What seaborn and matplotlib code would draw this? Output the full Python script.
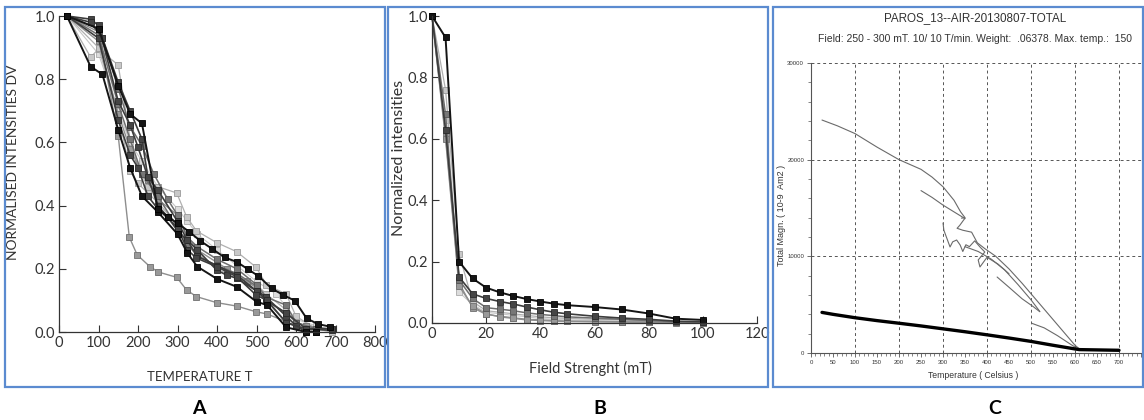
"""Three-panel figure: thermal demagnetisation (A), AF demagnetisation (B), thermomagnetic curve (C)."""
import numpy as np
import pandas as pd
import matplotlib
matplotlib.use('Agg')
import matplotlib.pyplot as plt
from matplotlib.patches import Rectangle
from matplotlib.ticker import MultipleLocator
import seaborn as sns

# ---------------- A: normalised intensities vs temperature ----------------
a_t1 = [20, 80, 110, 150, 180, 210, 250, 300, 325, 350, 400, 450, 500, 527, 575, 625, 650]
a_v1 = [1.0, 0.84, 0.815, 0.64, 0.52, 0.43, 0.38, 0.31, 0.25, 0.207, 0.168, 0.143, 0.096, 0.085, 0.015, 0.0, 0.0]
a_t2 = [20, 100, 150, 180, 210, 250, 275, 300, 330, 358, 388, 419, 450, 479, 505, 538, 568, 597, 627, 656, 686]
a_v2 = [1.0, 0.96, 0.78, 0.69, 0.66, 0.39, 0.365, 0.344, 0.317, 0.288, 0.263, 0.236, 0.222, 0.198, 0.177, 0.138, 0.117, 0.099, 0.043, 0.025, 0.017]
a_t3 = [20, 80, 110, 150, 180, 210, 225, 250, 300, 325, 350, 400, 450, 500, 525, 575, 625, 690]
a_v3 = [1.0, 0.98, 0.93, 0.79, 0.70, 0.61, 0.49, 0.45, 0.35, 0.29, 0.24, 0.21, 0.18, 0.13, 0.10, 0.06, 0.01, 0.005]
a_t4 = [20, 100, 150, 178, 198, 230, 251, 298, 323, 348, 399, 450, 499, 527, 600, 650]
a_v4 = [1.0, 0.95, 0.62, 0.30, 0.244, 0.207, 0.19, 0.173, 0.133, 0.112, 0.093, 0.082, 0.064, 0.057, 0.02, 0.0]
a_t5 = [20, 80, 100, 150, 180, 200, 225, 250, 298, 323, 348, 399, 450, 499, 525, 575, 600, 650, 690]
a_v5 = [1.0, 0.87, 0.895, 0.845, 0.61, 0.52, 0.46, 0.46, 0.44, 0.365, 0.32, 0.283, 0.254, 0.205, 0.15, 0.12, 0.05, 0.01, 0.0]
a_t6 = [20, 100, 150, 180, 200, 225, 250, 300, 325, 348, 399, 450, 499, 527, 575, 625, 690]
a_v6 = [1.0, 0.93, 0.67, 0.56, 0.52, 0.43, 0.39, 0.33, 0.26, 0.234, 0.207, 0.175, 0.117, 0.10, 0.03, 0.01, 0.01]
a_t7 = [20, 100, 150, 180, 210, 225, 250, 300, 325, 350, 400, 425, 450, 475, 500, 525, 575, 600, 625, 690]
a_v7 = [1.0, 0.92, 0.69, 0.58, 0.50, 0.48, 0.42, 0.37, 0.30, 0.26, 0.22, 0.20, 0.18, 0.16, 0.14, 0.10, 0.06, 0.03, 0.02, 0.01]
a_t8 = [20, 100, 150, 180, 200, 225, 250, 300, 325, 350, 400, 450, 500, 525, 575, 600, 625, 690]
a_v8 = [1.0, 0.90, 0.69, 0.51, 0.47, 0.44, 0.41, 0.34, 0.27, 0.25, 0.20, 0.17, 0.15, 0.12, 0.07, 0.03, 0.02, 0.005]
a_t9 = [20, 100, 110, 150, 180, 210, 240, 275, 300, 325, 350, 400, 450, 500, 525, 575, 600, 650]
a_v9 = [1.0, 0.96, 0.93, 0.77, 0.65, 0.59, 0.50, 0.42, 0.37, 0.30, 0.27, 0.23, 0.20, 0.15, 0.11, 0.085, 0.03, 0.01]
a_t10 = [20, 100, 150, 180, 210, 250, 300, 325, 350, 400, 450, 500, 550, 600, 650]
a_v10 = [1.0, 0.88, 0.70, 0.60, 0.54, 0.46, 0.39, 0.35, 0.31, 0.26, 0.21, 0.16, 0.12, 0.04, 0.02]
a_t11 = [20, 80, 100, 150, 180, 200, 225, 250, 275, 300, 325, 350, 400, 425, 450, 500, 525, 575, 600, 625, 650]
a_v11 = [1.0, 0.99, 0.97, 0.73, 0.655, 0.585, 0.49, 0.40, 0.365, 0.32, 0.29, 0.26, 0.195, 0.18, 0.17, 0.13, 0.11, 0.05, 0.02, 0.0, 0.0]
a_t12 = [20, 100, 150, 180, 210, 250, 300, 325, 350, 400, 450, 500, 525, 575, 625]
a_v12 = [1.0, 0.94, 0.72, 0.61, 0.50, 0.43, 0.33, 0.28, 0.24, 0.21, 0.185, 0.145, 0.10, 0.03, 0.005]

# ---------------- B: normalised intensities vs AF field ----------------
b_field = [0, 5, 10, 15, 20, 25, 30, 35, 40, 45, 50, 60, 70, 80, 90, 100]
b_v1 = [1.0, 0.93, 0.20, 0.145, 0.115, 0.10, 0.088, 0.078, 0.07, 0.063, 0.058, 0.052, 0.044, 0.031, 0.014, 0.01]
b_v2 = [1.0, 0.63, 0.15, 0.095, 0.08, 0.07, 0.062, 0.052, 0.043, 0.035, 0.03, 0.022, 0.016, 0.012, 0.006, 0.004]
b_v3 = [1.0, 0.68, 0.14, 0.08, 0.05, 0.045, 0.04, 0.033, 0.028, 0.024, 0.02, 0.016, 0.012, 0.008, 0.004, 0.003]
b_v4 = [1.0, 0.76, 0.225, 0.07, 0.04, 0.035, 0.03, 0.025, 0.02, 0.017, 0.015, 0.012, 0.01, 0.007, 0.004, 0.002]
b_v5 = [1.0, 0.66, 0.10, 0.06, 0.035, 0.03, 0.025, 0.02, 0.015, 0.012, 0.01, 0.008, 0.006, 0.004, 0.002, 0.001]
b_v6 = [1.0, 0.60, 0.12, 0.055, 0.03, 0.02, 0.015, 0.01, 0.008, 0.006, 0.005, 0.004, 0.003, 0.002, 0.001, 0.0]
b_v7 = [1.0, 0.61, 0.13, 0.05, 0.028, 0.022, 0.017, 0.012, 0.01, 0.008, 0.006, 0.005, 0.004, 0.003, 0.002, 0.001]

# ---------------- C: total magnetisation vs temperature ----------------
c_cool_t = [25, 50, 100, 150, 200, 250, 300, 350, 400, 450, 500, 550, 600, 610, 650, 700]
c_cool_m = [4200, 4000, 3650, 3350, 3080, 2800, 2500, 2200, 1880, 1550, 1200, 800, 420, 350, 320, 280]
c_h1_t = [25, 60, 100, 150, 200, 250, 275, 300, 325, 340, 350, 342]
c_h1_m = [24100, 23500, 22700, 21300, 20000, 19000, 18200, 17200, 15800, 14600, 14000, 13950]
c_h2_t = [250, 275, 300, 325, 350]
c_h2_m = [16800, 16100, 15300, 14600, 13900]
c_h3_t = [350, 338, 332, 345, 365, 378, 395, 420, 450, 480, 510, 540, 570, 600, 612]
c_h3_m = [13950, 13200, 12900, 12700, 12500, 11400, 10800, 10000, 8700, 7200, 5600, 4000, 2400, 800, 350]
c_h4_t = [300, 302, 316, 322, 331, 339, 345, 352, 360, 372, 384, 395, 380, 384, 400, 425, 450]
c_h4_m = [13450, 12700, 10970, 11500, 11690, 11170, 10500, 11200, 11000, 11600, 10970, 10450, 9620, 8900, 9900, 9200, 8200]
c_h5_t = [350, 380, 410, 440, 470, 500, 520]
c_h5_m = [11000, 10500, 9700, 8600, 7100, 5500, 4300]
c_h6_t = [423, 450, 480, 505, 520]
c_h6_m = [7860, 6800, 5600, 4800, 4270]
c_h7_t = [502, 530, 560, 590, 611]
c_h7_m = [3070, 2600, 1800, 900, 310]

sns.set_theme(style="white")
plt.rcParams['font.family'] = ['Lato', 'DejaVu Sans']
plt.rcParams['axes.edgecolor'] = '#333333'
plt.rcParams['xtick.color'] = '#333333'
plt.rcParams['ytick.color'] = '#333333'
ARIAL = ['Liberation Sans', 'DejaVu Sans']

W, H = 1144, 420
fig = plt.figure(figsize=(W / 100, H / 100), dpi=100)


def fx(px):
    return px / W


def fy(py):
    return 1 - py / H


def style_ab(ax):
    sns.despine(ax=ax)
    ax.tick_params(direction='in', length=5, width=0.8, labelsize=10.5, pad=3,
                   bottom=True, left=True, labelcolor='#333333')
    for s in ['left', 'bottom']:
        ax.spines[s].set_linewidth(0.9)
    ax.set_xlabel('')
    ax.set_ylabel('')


# grey shades: (line colour, marker face, marker edge, linewidth)
shade_black = ('#151515', '#151515', '#000000', 1.4)
shade_dark = ('#3c3c3c', '#454545', '#2a2a2a', 1.2)
shade_mid = ('#6e6e6e', '#777777', '#555555', 1.1)
shade_grey = ('#8e8e8e', '#999999', '#707070', 1.0)
shade_light = ('#b0b0b0', '#c8c8c8', '#9a9a9a', 0.9)
shade_vlight = ('#c8c8c8', '#dcdcdc', '#aaaaaa', 0.8)

# ---------------- panel A ----------------
axA = fig.add_axes([fx(59), fy(332), fx(316), 316 / H])
a_series = [
    (a_t10, a_v10, shade_vlight), (a_t5, a_v5, shade_light), (a_t8, a_v8, shade_light),
    (a_t7, a_v7, shade_grey), (a_t4, a_v4, shade_grey), (a_t12, a_v12, shade_mid),
    (a_t9, a_v9, shade_mid), (a_t11, a_v11, shade_dark), (a_t3, a_v3, shade_dark),
    (a_t6, a_v6, shade_dark), (a_t1, a_v1, shade_black), (a_t2, a_v2, shade_black),
]
for t, v, (lc, mf, me, lw) in a_series:
    sns.lineplot(x=t, y=v, ax=axA, color=lc, linewidth=lw, marker='s', markersize=4,
                 markerfacecolor=mf, markeredgecolor=me, markeredgewidth=0.6,
                 estimator=None, sort=False, clip_on=False)
axA.set_xlim(0, 800)
axA.set_ylim(0, 1.0)
axA.set_xticks(np.arange(0, 801, 100))
axA.set_yticks(np.arange(0, 1.01, 0.2))
axA.set_yticklabels([f"{v:.1f}" for v in np.arange(0, 1.01, 0.2)])
style_ab(axA)
fig.text(fx(13), fy(162), 'NORMALISED INTENSITIES DV', rotation=90, ha='center', va='center',
         fontsize=10, color='#333333')
fig.text(fx(200), fy(377), 'TEMPERATURE T', ha='center', va='center', fontsize=9.5, color='#333333')

# ---------------- panel B ----------------
axB = fig.add_axes([fx(432), fy(323), fx(325), 307 / H])
b_series = [
    (b_v5, shade_vlight), (b_v4, shade_light), (b_v7, shade_grey), (b_v6, shade_grey),
    (b_v3, shade_mid), (b_v2, shade_dark), (b_v1, shade_black),
]
for v, (lc, mf, me, lw) in b_series:
    sns.lineplot(x=b_field, y=v, ax=axB, color=lc, linewidth=lw, marker='s', markersize=4,
                 markerfacecolor=mf, markeredgecolor=me, markeredgewidth=0.6,
                 estimator=None, sort=False, clip_on=False)
axB.set_xlim(0, 120)
axB.set_ylim(0, 1.0)
axB.set_xticks(np.arange(0, 121, 20))
axB.set_yticks(np.arange(0, 1.01, 0.2))
axB.set_yticklabels([f"{v:.1f}" for v in np.arange(0, 1.01, 0.2)])
style_ab(axB)
fig.text(fx(399), fy(158), 'Normalized intensities', rotation=90, ha='center', va='center',
         fontsize=11.5, color='#333333')
fig.text(fx(590), fy(368), 'Field Strenght (mT)', ha='center', va='center', fontsize=10.5, color='#333333')

# ---------------- panel C ----------------
axC = fig.add_axes([fx(811), fy(353), fx(330), 290 / H])
thin = dict(color='#6a6a6a', linewidth=0.8, estimator=None, sort=False)
for t, m in [(c_h1_t, c_h1_m), (c_h2_t, c_h2_m), (c_h3_t, c_h3_m), (c_h4_t, c_h4_m),
             (c_h5_t, c_h5_m), (c_h6_t, c_h6_m), (c_h7_t, c_h7_m)]:
    sns.lineplot(x=t, y=m, ax=axC, **thin)
sns.lineplot(x=c_cool_t, y=c_cool_m, ax=axC, color='black', linewidth=2.4, estimator=None, sort=False)
axC.set_xlim(0, 750)
axC.set_ylim(0, 30000)
axC.set_xticks(np.arange(0, 751, 50))
axC.set_xticklabels([str(v) if v < 750 else '' for v in np.arange(0, 751, 50)])
axC.xaxis.set_minor_locator(MultipleLocator(10))
axC.yaxis.set_major_locator(MultipleLocator(10000))
axC.yaxis.set_minor_locator(MultipleLocator(2000))
for gx in range(100, 800, 100):
    axC.axvline(gx, color='#555555', linestyle=(0, (3, 3)), linewidth=0.7, zorder=0)
for gy in range(10000, 30001, 10000):
    axC.axhline(gy, color='#555555', linestyle=(0, (3, 3)), linewidth=0.7, zorder=0, clip_on=False)
sns.despine(ax=axC)
for s in ['left', 'bottom']:
    axC.spines[s].set_linewidth(0.8)
    axC.spines[s].set_color('#555555')
axC.tick_params(which='major', direction='out', length=3, width=0.6, labelsize=4.3, pad=2,
                bottom=True, left=True, labelcolor='#333333', color='#555555')
axC.tick_params(which='minor', direction='out', length=2, width=0.5, bottom=True, left=True,
                color='#555555')
for lab in axC.get_xticklabels() + axC.get_yticklabels():
    lab.set_family(ARIAL)
axC.set_xlabel('')
axC.set_ylabel('')
fig.text(fx(782), fy(215), 'Total Magn. ( 10-9  Am2 )', rotation=90, ha='center', va='center',
         fontsize=6.5, family=ARIAL, color='#333333')
fig.text(fx(973), fy(375), 'Temperature ( Celsius )', ha='center', va='center',
         fontsize=6.2, family=ARIAL, color='#333333')
fig.text(fx(975), fy(18), 'PAROS_13--AIR-20130807-TOTAL', ha='center', va='center',
         fontsize=8.4, family=ARIAL, color='#333333')
fig.text(fx(975), fy(39), 'Field: 250 - 300 mT. 10/ 10 T/min. Weight:  .06378. Max. temp.:  150',
         ha='center', va='center', fontsize=7.5, family=ARIAL, color='#333333')

# ---------------- panel frames and letters ----------------
for x0, x1 in [(5, 385), (388, 768), (773, 1143)]:
    fig.patches.append(Rectangle((fx(x0), fy(387)), fx(x1 - x0), 380 / H, transform=fig.transFigure,
                                 fill=False, edgecolor='#5b8bd0', linewidth=1.6, zorder=10))
for letter, px in [('A', 199), ('B', 600), ('C', 995)]:
    fig.text(fx(px), fy(408), letter, ha='center', va='center', fontsize=14, fontweight='bold',
             color='black')

fig.savefig('out.png', dpi=100)
